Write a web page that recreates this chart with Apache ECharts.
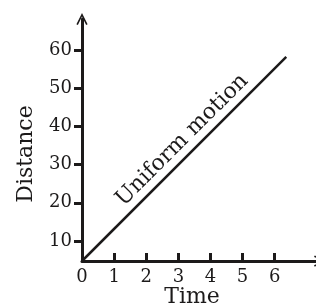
<!DOCTYPE html>
<html><head><meta charset="utf-8">
<script src="https://cdn.jsdelivr.net/npm/echarts@6/dist/echarts.min.js"></script>
<style>html,body{margin:0;padding:0;background:#fff}#c{width:316px;height:305px}</style>
</head><body><div id="c"></div>
<script>
var xTickLabels = [0, 1, 2, 3, 4, 5, 6];
var xTicks = [1, 2, 3, 4, 5, 6];
var yTickLabels = [10, 20, 30, 40, 50, 60];
var lineX = [0, 6.36];
var lineY = [4.76, 58.2];
var annotation = 'Uniform motion';
var annotationAt = [3.12, 36.4];

var ink = '#1c1a1a';
var font = 'DejaVu Serif';
var chevron = 'path://M0,12 L6,0 L12,12 L10.4,12.8 L6,3.6 L1.6,12.8 Z';

var chart = echarts.init(document.getElementById('c'), null, {renderer: 'canvas'});
chart.setOption({
  animation: false,
  grid: {left: 82, right: -4, top: 19, bottom: 44, containLabel: false, outerBoundsMode: 'none'},
  xAxis: {
    type: 'value', min: 0, max: 7.41,
    name: 'Time', nameLocation: 'middle', nameGap: 25, nameMoveOverlap: false,
    nameTextStyle: {fontFamily: font, fontSize: 22, color: ink, padding: [0, 18, 0, 0]},
    axisLine: {show: true, lineStyle: {color: ink, width: 3}, symbol: ['none', chevron], symbolSize: [14, 12]},
    axisTick: {show: true, inside: true, length: 8, lineStyle: {color: ink, width: 3}, customValues: xTicks},
    axisLabel: {fontFamily: font, fontSize: 18, color: ink, margin: 7, customValues: xTickLabels},
    splitLine: {show: false}
  },
  yAxis: {
    type: 'value', min: 4.76, max: 68.1,
    name: 'Distance', nameLocation: 'middle', nameGap: 45, nameRotate: 90, nameMoveOverlap: false,
    nameTextStyle: {fontFamily: font, fontSize: 22, color: ink, padding: [0, 28, 0, 0]},
    axisLine: {show: true, lineStyle: {color: ink, width: 3}, symbol: ['none', chevron], symbolSize: [14, 12]},
    axisTick: {show: true, inside: false, length: 8, lineStyle: {color: ink, width: 3}, customValues: yTickLabels},
    axisLabel: {fontFamily: font, fontSize: 18, color: ink, margin: 10, customValues: yTickLabels},
    splitLine: {show: false}
  },
  series: [{
    type: 'line',
    data: lineX.map(function (x, i) { return [x, lineY[i]]; }),
    showSymbol: false,
    lineStyle: {color: ink, width: 2.5},
    markPoint: {
      symbol: 'circle', symbolSize: 0,
      data: [{coord: annotationAt, value: annotation}],
      label: {show: true, formatter: annotation, rotate: 45, fontFamily: font, fontSize: 22, color: ink,
        position: 'inside', align: 'center', verticalAlign: 'middle'}
    }
  }]
});
</script></body></html>
